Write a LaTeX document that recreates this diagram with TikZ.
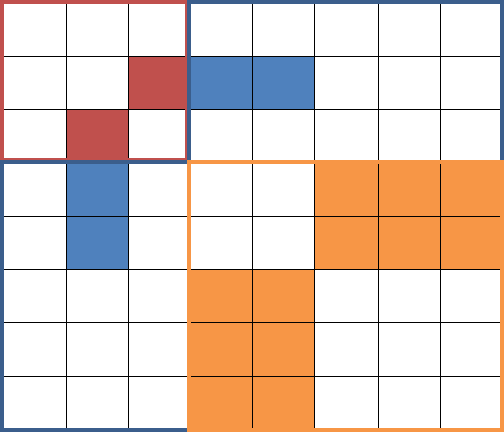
\documentclass[tikz,border=0pt]{standalone}
\definecolor{cred}{HTML}{C0504D}
\definecolor{credframe}{HTML}{C0504D}
\definecolor{cblue}{HTML}{4F81BD}
\definecolor{cblueframe}{HTML}{3B5E8C}
\definecolor{corange}{HTML}{F79646}
\tikzset{
  gridline/.style={black, line width=0.9pt},
  frame/.style={line width=4pt, line join=miter},
}
\begin{document}
\begin{tikzpicture}[x=1pt, y=-1pt]
\useasboundingbox[fill=white] (0,0) rectangle (504,432);
% filled cells
\fill[cred] (128,56) rectangle (189,109);
\fill[cred] (66,109) rectangle (128,162);
\fill[cblue] (189,56) rectangle (314,109);
\fill[cblue] (66,162) rectangle (128,269);
\fill[corange] (314,162) rectangle (502,269);
\fill[corange] (189,269) rectangle (314,429);
% grid lines
\foreach \x in {66,128,189,252,314,378,440}
  \draw[gridline] (\x,2) -- (\x,429);
\foreach \y in {56,109,162,216,269,322,376}
  \draw[gridline] (2,\y) -- (502,\y);
% frames
\draw[frame, credframe] (2,2) rectangle (186.5,159.5);
\draw[frame, cblueframe] (189,2) rectangle (502,162);
\draw[frame, cblueframe] (2,162) rectangle (189,429.5);
\draw[frame, corange] (188.5,162) rectangle (502,429.5);
\end{tikzpicture}
\end{document}
